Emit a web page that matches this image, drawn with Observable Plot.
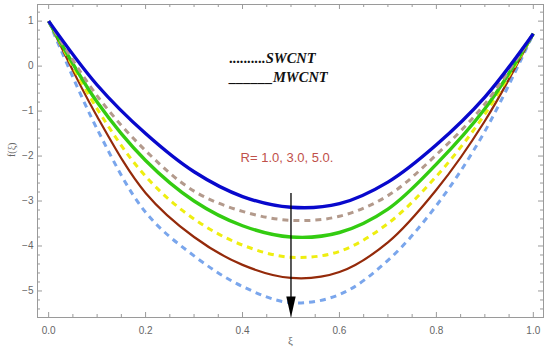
<!DOCTYPE html>
<html><head><meta charset="utf-8">
<script src="https://cdn.jsdelivr.net/npm/d3@7"></script>
<script src="https://cdn.jsdelivr.net/npm/@observablehq/plot@0.6"></script>
<style>body{margin:0;background:#fff;}</style>
</head><body><div id="chart"></div>
<script>
// ξ sample positions
const xi = [0, 0.1, 0.2, 0.3, 0.4, 0.5, 0.6, 0.7, 0.8, 0.9, 1.0];
// f(ξ) values
const mwcntR1 = [1, -0.42, -1.50, -2.35, -2.90, -3.14, -3.06, -2.58, -1.75, -0.69, 0.72];
const swcntR1 = [1, -0.66, -1.88, -2.78, -3.23, -3.43, -3.34, -2.88, -1.97, -0.84, 0.72];
const mwcntR3 = [1, -0.80, -2.10, -3.00, -3.55, -3.80, -3.70, -3.18, -2.18, -0.95, 0.72];
const swcntR3 = [1, -0.95, -2.45, -3.40, -3.98, -4.25, -4.12, -3.50, -2.45, -1.07, 0.72];
const mwcntR5 = [1, -1.12, -2.82, -3.80, -4.42, -4.71, -4.58, -3.92, -2.75, -1.22, 0.72];
const swcntR5 = [1, -1.40, -3.25, -4.22, -4.90, -5.26, -5.08, -4.32, -3.10, -1.45, 0.72];

const xTicks = [0, 0.2, 0.4, 0.6, 0.8, 1.0];
const yTicks = [-5, -4, -3, -2, -1, 0, 1];
const legendLines = ["..........SWCNT", "______MWCNT"];
const paramLabel = "R= 1.0, 3.0, 5.0.";

const curves = [
  {values: swcntR5, stroke: "#7aa6ec", width: 3, dash: "6,5"},
  {values: mwcntR5, stroke: "#942a0a", width: 2.2, dash: null},
  {values: swcntR3, stroke: "#eeee10", width: 3, dash: "6,5"},
  {values: mwcntR3, stroke: "#33cc11", width: 3.4, dash: null},
  {values: swcntR1, stroke: "#b39a8c", width: 3, dash: "6,5"},
  {values: mwcntR1, stroke: "#0808cc", width: 3.4, dash: null}
];

const W = 550, H = 354, mL = 37, mT = 4, mR = 7, mB = 37;
const innerH = H - mT - mB, innerW = W - mL - mR;

const xMinor = d3.range(0, 1.0001, 0.05).filter(v => Math.abs(v * 5 - Math.round(v * 5)) > 1e-6);
const yMinor = d3.range(-5.4, 1.3, 0.2).filter(v => Math.abs(v - Math.round(v)) > 1e-6);

const arrowHead = {
  draw(ctx) { ctx.moveTo(0, 0); ctx.lineTo(-4.7, -21); ctx.lineTo(4.7, -21); ctx.closePath(); }
};

const marks = [
  Plot.frame({stroke: "#9a9a9a", strokeWidth: 1}),
  Plot.tickX(xTicks, {x: d => d, stroke: "#9a9a9a", insetTop: innerH - 5}),
  Plot.tickX(xMinor, {x: d => d, stroke: "#9a9a9a", insetTop: innerH - 3}),
  Plot.tickX(xTicks, {x: d => d, stroke: "#9a9a9a", insetBottom: innerH - 5}),
  Plot.tickX(xMinor, {x: d => d, stroke: "#9a9a9a", insetBottom: innerH - 3}),
  Plot.tickY(yTicks, {y: d => d, stroke: "#9a9a9a", insetRight: innerW - 5}),
  Plot.tickY(yMinor, {y: d => d, stroke: "#9a9a9a", insetRight: innerW - 3}),
  Plot.tickY(yTicks, {y: d => d, stroke: "#9a9a9a", insetLeft: innerW - 5}),
  Plot.tickY(yMinor, {y: d => d, stroke: "#9a9a9a", insetLeft: innerW - 3}),
  Plot.axisX({ticks: xTicks, tickSize: 0, tickPadding: 9, tickFormat: d3.format(".1f"), color: "#666", fontSize: 10, label: null}),
  Plot.axisY({ticks: yTicks, tickSize: 0, tickPadding: 4, tickFormat: d => d < 0 ? "\u2212" + (-d) : String(d), color: "#666", fontSize: 10, label: null}),
  Plot.text(["f(\u03be)"], {frameAnchor: "left", dx: -26, dy: -4, rotate: -90, fill: "#666", fontSize: 10, fontFamily: "Liberation Serif"}),
  Plot.text(["\u03be"], {frameAnchor: "bottom", dy: 26, fill: "#666", fontSize: 11, fontFamily: "Liberation Serif"}),
];

for (const c of curves) {
  marks.push(Plot.line(xi.map((x, i) => ({x, y: c.values[i]})), {
    x: "x", y: "y", curve: "catmull-rom", stroke: c.stroke, strokeWidth: c.width,
    strokeDasharray: c.dash, strokeLinecap: "butt"
  }));
}

marks.push(
  Plot.text(legendLines, {x: 0.373, y: (d, i) => [0.17, -0.26][i], text: d => d, textAnchor: "start",
    fontFamily: "Liberation Serif", fontWeight: "bold", fontStyle: "italic", fontSize: 14.5, fill: "#111"}),
  Plot.text([paramLabel], {x: 0.396, y: -2.03, text: d => d, textAnchor: "start",
    fontFamily: "Liberation Sans", fontSize: 13, fill: "#c0504a"}),
  Plot.ruleX([0.5], {y1: -2.83, y2: -5.2, stroke: "#000", strokeWidth: 1.3}),
  Plot.dot([0.5], {x: d => d, y: -5.59, symbol: arrowHead, fill: "#000", stroke: null, r: 5})
);

const chart = Plot.plot({
  width: W, height: H,
  marginLeft: mL, marginTop: mT, marginRight: mR, marginBottom: mB,
  x: {domain: [-0.023, 1.021]},
  y: {domain: [-5.59, 1.37]},
  style: {fontFamily: "Liberation Sans", background: "#fff"},
  marks
});
document.getElementById("chart").appendChild(chart);
</script>
</body></html>
